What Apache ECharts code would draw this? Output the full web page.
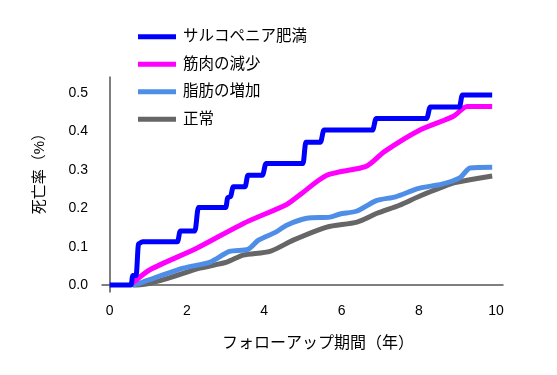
<!DOCTYPE html>
<html><head><meta charset="utf-8">
<script src="https://cdn.jsdelivr.net/npm/echarts@6/dist/echarts.min.js"></script>
<style>html,body{margin:0;padding:0;background:#fff}#c{width:557px;height:375px}</style>
</head><body><div id="c"></div>
<script>
const seriesNames = ['サルコペニア肥満','筋肉の減少','脂肪の増加','正常'];
const xTitle = 'フォローアップ期間（年）';
const yTitle = '死亡率（%）';
const xTicks = [0,2,4,6,8,10];
const yTicks = [0,0.1,0.2,0.3,0.4,0.5];
const sarcObese = [[0,0],[0.55,0],[0.6,0.025],[0.68,0.025],[0.75,0.108],[0.85,0.113],[1.75,0.113],[1.83,0.141],[2.2,0.141],[2.3,0.202],[3.0,0.202],[3.06,0.228],[3.12,0.23],[3.2,0.256],[3.5,0.256],[3.58,0.286],[3.95,0.286],[4.05,0.317],[5.0,0.317],[5.08,0.372],[5.45,0.372],[5.55,0.404],[6.8,0.404],[6.9,0.434],[8.2,0.434],[8.3,0.464],[9.05,0.464],[9.13,0.495],[9.9,0.495]];
const muscleLoss = [[0.6,0.006],[1.04,0.04],[2.25,0.096],[3.45,0.16],[4.58,0.21],[4.92,0.235],[5.62,0.286],[6.65,0.31],[7.1,0.347],[8.03,0.404],[8.9,0.44],[9.25,0.465],[9.9,0.465]];
const fatGain = [[0.6,0],[0.86,0.008],[1.9,0.044],[2.6,0.06],[3.1,0.088],[3.58,0.093],[3.85,0.117],[4.3,0.138],[4.58,0.156],[5.1,0.174],[5.7,0.177],[5.96,0.185],[6.4,0.193],[6.9,0.22],[7.4,0.23],[8.0,0.252],[8.6,0.263],[9.07,0.28],[9.33,0.305],[9.9,0.307]];
const normal = [[0.6,0],[0.9,0.002],[1.48,0.017],[2.33,0.044],[3.03,0.06],[3.45,0.078],[4.15,0.088],[4.75,0.117],[5.62,0.151],[6.4,0.164],[6.92,0.187],[7.5,0.208],[8.03,0.232],[8.9,0.266],[9.25,0.273],[9.9,0.284]];
const colors = ['#0000ff','#ff00ff','#4f8ee6','#666666'];
const datas = [sarcObese, muscleLoss, fatGain, normal];
const font = '"Liberation Sans","Noto Sans CJK JP",sans-serif';
const chart = echarts.init(document.getElementById('c'));
chart.setOption({
  animation:false,
  textStyle:{fontFamily:font},
  legend:{orient:'vertical',left:133,top:24,itemWidth:38,itemHeight:5,itemGap:12,
    icon:'rect',textStyle:{fontSize:15.5,color:'#000',fontFamily:font,padding:[0,0,0,2]},
    data:seriesNames.slice()},
  grid:{left:102,right:54,top:77,bottom:83},
  graphic:[
    {type:'text',left:222,top:336,style:{text:xTitle,font:'16px '+font,fill:'#000'}},
    {type:'text',x:40,y:170,rotation:Math.PI/2,
      style:{text:yTitle,font:'15px '+font,fill:'#000',align:'center',verticalAlign:'middle'}}
  ],
  xAxis:{type:'value',min:-0.2,max:10.18,
    axisLine:{show:true,lineStyle:{color:'#555',width:1.5}},
    axisTick:{show:false},splitLine:{show:false},
    axisLabel:{customValues:xTicks,color:'#000',fontSize:14,margin:12,fontFamily:font}},
  yAxis:{type:'value',min:-0.018,max:0.542,
    axisLine:{show:true,lineStyle:{color:'#555',width:1.5}},
    axisTick:{show:false},splitLine:{show:false},
    axisLabel:{customValues:yTicks,color:'#000',fontSize:14,margin:14,fontFamily:font,
      formatter:v=>v.toFixed(1)}},
  series:seriesNames.map((n,i)=>({name:n,type:'line',data:datas[i],showSymbol:false,
    smooth:i===0?0.4:0.25,smoothMonotone:i===0?'x':undefined,color:colors[i],
    lineStyle:{width:5,color:colors[i]},z:10-i}))
});
</script></body></html>
